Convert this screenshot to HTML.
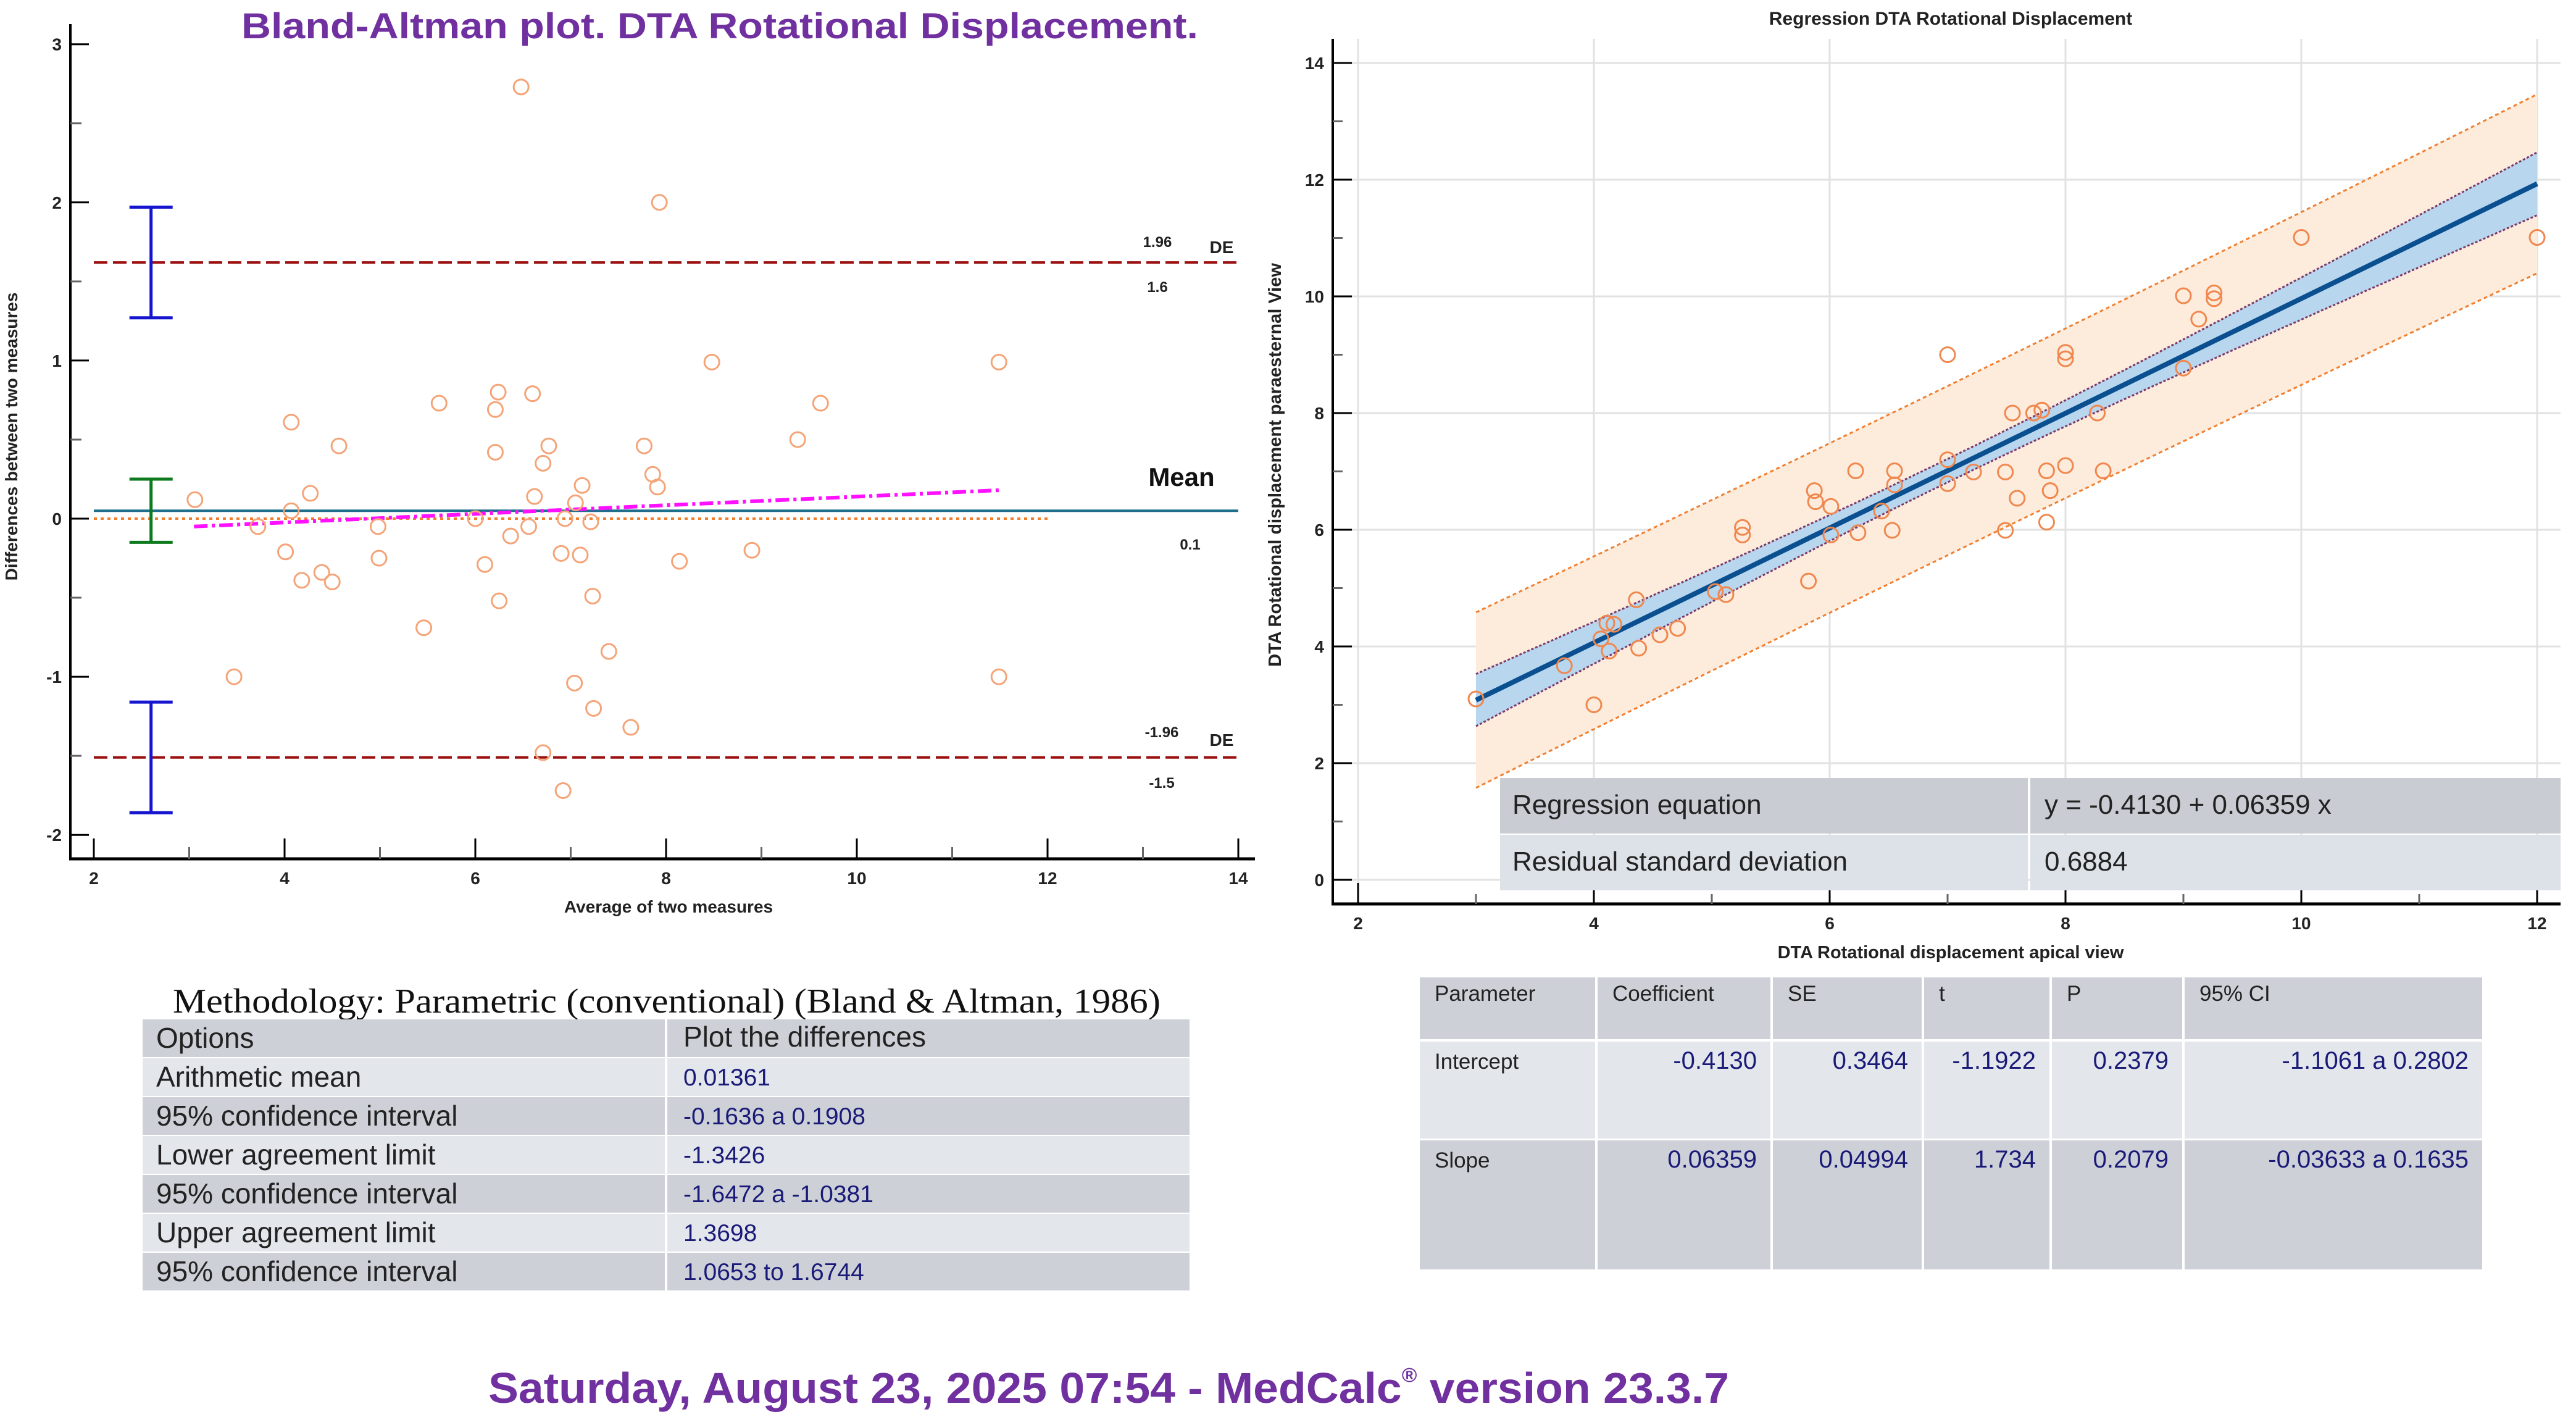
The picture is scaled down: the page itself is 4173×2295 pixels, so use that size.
<!DOCTYPE html>
<html><head><meta charset="utf-8"><style>
html,body{margin:0;padding:0;background:#fff;}
svg{display:block;font-family:"Liberation Sans",sans-serif;}
</style></head><body>
<svg id="root" width="4173" height="2295" viewBox="0 0 4173 2295" xmlns="http://www.w3.org/2000/svg">
<rect width="4173" height="2295" fill="#fff"/>
<text x="1166" y="62" text-anchor="middle" font-size="58" font-weight="bold" fill="#7030a0" textLength="1550" lengthAdjust="spacingAndGlyphs">Bland-Altman plot. DTA Rotational Displacement.</text>
<g id="ba"></g>
<text x="3160" y="40" text-anchor="middle" font-size="30" font-weight="bold" fill="#222">Regression DTA Rotational Displacement</text>
<g id="rg"></g>
<g id="tables"></g>
<text x="1796" y="2272" text-anchor="middle" font-size="70" font-weight="bold" fill="#7030a0" textLength="2010" lengthAdjust="spacingAndGlyphs">Saturday, August 23, 2025 07:54 - MedCalc<tspan font-size="32" dy="-34">®</tspan><tspan dy="34"> version 23.3.7</tspan></text>
</svg>
<script>
// ---- Bland-Altman data ----
const baAvg = [6.48,7.93,8.48,11.49,11.49,3.47,5.62,6.24,6.6,6.21,9.62,4.07,4.57,6.77,7.77,9.38,6.21,6.71,7.86,7.91,7.12,4.27,6.62,3.06,7.05,4.07,6.0,6.94,7.21,3.72,4.98,6.56,6.37,4.01,6.90,7.10,8.9,8.14,4.99,6.10,4.39,4.18,4.50,7.23,6.25,5.46,7.40,7.04,7.24,7.63,6.71,6.92];
const baDiff = [2.73,2.0,0.99,0.99,-1.0,-1.0,0.73,0.80,0.79,0.69,0.73,0.61,0.46,0.46,0.46,0.50,0.42,0.35,0.28,0.20,0.21,0.16,0.14,0.12,0.10,0.05,0.0,0.0,-0.02,-0.05,-0.05,-0.05,-0.11,-0.21,-0.22,-0.23,-0.2,-0.27,-0.25,-0.29,-0.34,-0.39,-0.40,-0.49,-0.52,-0.69,-0.84,-1.04,-1.2,-1.32,-1.48,-1.72];
const baLimits = [1.62, 0.05, -1.51]; // upper, mean, lower
const baCI = [[1.27,1.97],[-0.15,0.25],[-1.86,-1.16]];
const baTrend = [[3.05,-0.05],[11.5,0.18]];
const baXTicks = [2,4,6,8,10,12,14];
const baYTicks = [-2,-1,0,1,2,3];
// ---- Regression data ----
const rgX = [3.0,3.75,4.0,4.06,4.13,4.11,4.17,4.36,4.38,4.56,4.71,5.03,5.12,5.26,5.26,5.82,5.87,5.88,6.01,6.01,6.22,6.24,6.44,6.53,6.55,6.55,7.0,7.0,7.0,7.22,7.49,7.49,7.55,7.59,7.73,7.8,7.84,7.87,7.84,8.0,8.0,8.0,8.27,8.32,9.0,9.0,9.13,9.26,9.26,10.0,12.0];
const rgY = [3.1,3.67,3.0,4.13,3.92,4.4,4.38,4.8,3.97,4.2,4.31,4.94,4.89,6.04,5.91,5.12,6.67,6.48,6.4,5.91,7.01,5.95,6.32,5.99,7.01,6.77,7.2,6.79,9.0,6.99,6.99,5.99,8.0,6.54,8.0,8.05,7.01,6.67,6.13,7.1,9.04,8.93,8.0,7.01,10.01,8.77,9.61,9.96,10.06,11.01,11.01];
const rgLine = [0.13, 0.9833]; // intercept, slope (as drawn)
const rgBand = [0.04, 0.01, 7]; // ci variance base, curvature, centre
const rgPred = [1.45];
const rgXTicks = [2,4,6,8,10,12];
const rgYTicks = [0,2,4,6,8,10,12,14];

const NS="http://www.w3.org/2000/svg";
function mk(parent,tag,attrs,text){const e=document.createElementNS(NS,tag);for(const k in attrs)e.setAttribute(k,attrs[k]);if(text!==undefined)e.textContent=text;parent.appendChild(e);return e;}

// ===== Bland-Altman =====
(function(){
const g=document.getElementById('ba');
const bx=v=>152+(v-2)*154.5, by=v=>840-v*256.1;
let e;
e=mk(g,'line',{x1:114,y1:39,x2:114,y2:1391,stroke:'#000','stroke-width':4});


e=mk(g,'line',{x1:112,y1:1391,x2:2033,y2:1391,stroke:'#000','stroke-width':5});


for(let v=-2;v<=3;v+=0.5){const maj=Number.isInteger(v);mk(g,'line',{x1:114,y1:by(v),x2:maj?144:132,y2:by(v),stroke:maj?'#000':'#666','stroke-width':3});}
baYTicks.forEach(v=>{e=mk(g,'text',{x:100,y:by(v)+10,'text-anchor':'end','font-size':28,'font-weight':'bold',fill:'#222'},String(v));

});
for(let v=2;v<=14;v++){const maj=v%2===0;mk(g,'line',{x1:bx(v),y1:1391,x2:bx(v),y2:maj?1358:1372,stroke:maj?'#000':'#666','stroke-width':3});}
baXTicks.forEach(v=>{e=mk(g,'text',{x:bx(v),y:1432,'text-anchor':'middle','font-size':28,'font-weight':'bold',fill:'#222'},String(v));

});
e=mk(g,'text',{x:1083,y:1478,'text-anchor':'middle','font-size':28,'font-weight':'bold',fill:'#222'},'Average of two measures');


e=mk(g,'text',{x:0,y:0,'text-anchor':'middle','font-size':28,'font-weight':'bold',fill:'#222',transform:'translate(28,707) rotate(-90)'},'Differences between two measures');


e=mk(g,'line',{x1:bx(2),y1:by(0),x2:bx(12),y2:by(0),stroke:'#f08030','stroke-width':4,'stroke-dasharray':'5,6'});


[0,2].forEach(i=>{e=mk(g,'line',{x1:bx(2),y1:by(baLimits[i]),x2:bx(14),y2:by(baLimits[i]),stroke:'#9b1010','stroke-width':4,'stroke-dasharray':'22,9'});

});
e=mk(g,'line',{x1:bx(2),y1:by(baLimits[1]),x2:bx(14),y2:by(baLimits[1]),stroke:'#1f6e8c','stroke-width':4});


e=mk(g,'line',{x1:bx(baTrend[0][0]),y1:by(baTrend[0][1]),x2:bx(baTrend[1][0]),y2:by(baTrend[1][1]),stroke:'#ff10ff','stroke-width':6,'stroke-dasharray':'22,7,5,7'});


const cols=['#1515d0','#0e7a1e','#1515d0'];
baCI.forEach((c,i)=>{const x=bx(2.6);const gg=mk(g,'g',{stroke:cols[i],'stroke-width':5});


mk(gg,'line',{x1:x,y1:by(c[0]),x2:x,y2:by(c[1])});mk(gg,'line',{x1:x-35,y1:by(c[0]),x2:x+35,y2:by(c[0])});mk(gg,'line',{x1:x-35,y1:by(c[1]),x2:x+35,y2:by(c[1])});});
baAvg.forEach((a,i)=>{e=mk(g,'circle',{cx:bx(a),cy:by(baDiff[i]),r:12,fill:'none',stroke:'#f5a478','stroke-width':3});

});
const L=[['1.96',1875,400,24],['DE',1979,410,28],['1.6',1875,473,24],['0.1',1928,890,24],['-1.96',1882,1194,24],['DE',1979,1208,28],['-1.5',1882,1276,24]];
L.forEach(l=>{e=mk(g,'text',{x:l[1],y:l[2],'text-anchor':'middle','font-size':l[3],'font-weight':'bold',fill:'#222'},l[0]);

});
e=mk(g,'text',{x:1914,y:787,'text-anchor':'middle','font-size':42,'font-weight':'bold',fill:'#111'},'Mean');


})();

// ===== Regression =====
(function(){
const g=document.getElementById('rg');
const rx=v=>2200+(v-2)*191, ry=v=>1425-v*94.5;
let e;
rgXTicks.forEach(v=>mk(g,'line',{x1:rx(v),y1:63,x2:rx(v),y2:1464,stroke:'#e2e2e2','stroke-width':3}));
rgYTicks.forEach(v=>mk(g,'line',{x1:2159,y1:ry(v),x2:4148,y2:ry(v),stroke:'#e2e2e2','stroke-width':3}));
const f=x=>rgLine[0]+rgLine[1]*x;
const xs=[];for(let x=3;x<=12.0001;x+=0.25)xs.push(x);
const ci=x=>Math.sqrt(rgBand[0]+rgBand[1]*(x-rgBand[2])**2);
const pr=x=>Math.sqrt(rgPred[0]**2+rgBand[1]*(x-rgBand[2])**2);
const poly=(h)=>xs.map(x=>rx(x)+','+ry(f(x)+h(x))).join(' ')+' '+xs.slice().reverse().map(x=>rx(x)+','+ry(f(x)-h(x))).join(' ');
e=mk(g,'polygon',{points:poly(pr),fill:'#fdebdc'});


e=mk(g,'polygon',{points:poly(ci),fill:'#b8d6ee'});


[[pr,1,'#f08030','6,5'],[pr,-1,'#f08030','6,5'],[ci,1,'#7a3a6a','4,3'],[ci,-1,'#7a3a6a','4,3']].forEach(b=>{
e=mk(g,'polyline',{points:xs.map(x=>rx(x)+','+ry(f(x)+b[1]*b[0](x))).join(' '),fill:'none',stroke:b[2],'stroke-width':3,'stroke-dasharray':b[3]});

});
e=mk(g,'line',{x1:rx(3),y1:ry(f(3)),x2:rx(12),y2:ry(f(12)),stroke:'#0a4f8f','stroke-width':8});


rgX.forEach((x,i)=>{e=mk(g,'circle',{cx:rx(x),cy:ry(rgY[i]),r:12,fill:'none',stroke:'#f0884e','stroke-width':3});

});
e=mk(g,'line',{x1:2159,y1:63,x2:2159,y2:1464,stroke:'#000','stroke-width':4});


e=mk(g,'line',{x1:2157,y1:1464,x2:4148,y2:1464,stroke:'#000','stroke-width':5});


for(let v=0;v<=14;v++){const maj=v%2===0;mk(g,'line',{x1:2159,y1:ry(v),x2:maj?2190:2175,y2:ry(v),stroke:maj?'#000':'#666','stroke-width':3});}
rgYTicks.forEach(v=>{e=mk(g,'text',{x:2145,y:ry(v)+10,'text-anchor':'end','font-size':28,'font-weight':'bold',fill:'#222'},String(v));

});
for(let v=2;v<=12;v++){const maj=v%2===0;mk(g,'line',{x1:rx(v),y1:1464,x2:rx(v),y2:maj?1430:1448,stroke:maj?'#000':'#666','stroke-width':3});}
rgXTicks.forEach(v=>{e=mk(g,'text',{x:rx(v),y:1505,'text-anchor':'middle','font-size':28,'font-weight':'bold',fill:'#222'},String(v));

});
e=mk(g,'text',{x:3160,y:1552,'text-anchor':'middle','font-size':29,'font-weight':'bold',fill:'#222'},'DTA Rotational displacement apical view');


e=mk(g,'text',{x:0,y:0,'text-anchor':'middle','font-size':29,'font-weight':'bold',fill:'#222',transform:'translate(2075,753) rotate(-90)'},'DTA Rotational displacement paraesternal View');


const T=[['Regression equation','y = -0.4130 + 0.06359 x','#c9cdd3',1260],['Residual standard deviation','0.6884','#dde2e8',1352]];
T.forEach(r=>{mk(g,'rect',{x:2430,y:r[3],width:855,height:90,fill:r[2]});mk(g,'rect',{x:3289,y:r[3],width:859,height:90,fill:r[2]});
e=mk(g,'text',{x:2450,y:r[3]+58,'font-size':44,fill:'#222'},r[0]);


e=mk(g,'text',{x:3312,y:r[3]+58,'font-size':44,fill:'#222'},r[1]);

});
})();

// ===== Tables =====
(function(){
const g=document.getElementById('tables');
let e;
e=mk(g,'text',{x:1080,y:1640,'text-anchor':'middle','font-size':56,fill:'#111','font-family':'Liberation Serif, serif',textLength:1600,lengthAdjust:'spacingAndGlyphs'},'Methodology: Parametric (conventional) (Bland & Altman, 1986)');


const rows=[['Options','Plot the differences'],['Arithmetic mean','0.01361'],['95% confidence interval','-0.1636 a 0.1908'],['Lower agreement limit','-1.3426'],['95% confidence interval','-1.6472 a -1.0381'],['Upper agreement limit','1.3698'],['95% confidence interval','1.0653 to 1.6744']];
rows.forEach((r,i)=>{const y=1651+i*63;const fill=i%2===0?'#cdd1d7':'#e3e7ec';
mk(g,'rect',{x:231,y:y,width:846,height:61,fill:fill});mk(g,'rect',{x:1081,y:y,width:846,height:61,fill:fill});
e=mk(g,'text',{x:253,y:y+46,'font-size':46,fill:'#222'},r[0]);


e=mk(g,'text',{x:1107,y:y+44,'font-size':i===0?46:39,fill:i===0?'#222':'#1a1a78'},r[1]);

});
const cx=[2300,2588,2872,3117,3324,3539,4025];
const rys=[[1583,100,'#cdd1d7'],[1687,157,'#e3e7ec'],[1847,209,'#cdd1d7']];
const cells=[['Parameter','Coefficient','SE','t','P','95% CI'],['Intercept','-0.4130','0.3464','-1.1922','0.2379','-1.1061 a 0.2802'],['Slope','0.06359','0.04994','1.734','0.2079','-0.03633 a 0.1635']];
rys.forEach((r,i)=>{for(let c=0;c<6;c++){mk(g,'rect',{x:cx[c],y:r[0],width:cx[c+1]-cx[c]-4,height:r[1],fill:r[2]});
const right=(i>0&&c>0);
e=mk(g,'text',{x:right?cx[c+1]-26:cx[c]+24,y:r[0]+(i===0?38:44),'text-anchor':right?'end':'start','font-size':i>0&&c>0?40:35,fill:right?'#1a1a78':'#222'},cells[i][c]);

}});
})();
</script>
</body></html>
